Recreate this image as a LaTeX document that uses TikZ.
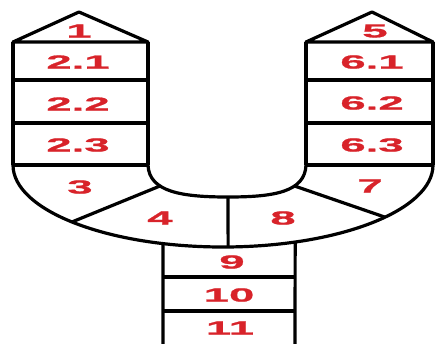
\documentclass[tikz,border=0pt]{standalone}
\usepackage{fontspec}
\newfontfamily\numfont[FakeStretch=2.4, FakeBold=1.2]{Liberation Sans}
\usetikzlibrary{calc}
\definecolor{numred}{HTML}{D8232A}
\tikzset{
  outline/.style={
    draw=black, line width=3.2pt, line join=round
  },
  numlabel/.style={
    font=\numfont\bfseries\fontsize{19}{19}\selectfont,
    color=numred, inner sep=0pt
  },
}

\begin{document}
\begin{tikzpicture}[x=1pt, y=-1pt]
  \useasboundingbox (0,0) rectangle (435,343);

  % Left column
  \draw[outline] (13,42) -- (79,12) -- (148,42) -- cycle;
  \draw[outline] (13,42) -- (13,165) (148,42) -- (148,165);
  \foreach \y in {80,123,165}
    \draw[outline] (13,\y) -- (148,\y);

  % Right column
  \draw[outline] (306,42) -- (372,12) -- (433,42) -- cycle;
  \draw[outline] (306,42) -- (306,165) (433,42) -- (433,165);
  \foreach \y in {80,123,165}
    \draw[outline] (306,\y) -- (433,\y);

  % Bend
  \coordinate (bend) at (223,165);
  \draw[outline] (13,165) arc[start angle=180, end angle=0, x radius=210, y radius=82];
  \draw[outline] (148,165) .. controls (149,192) and (182,197) .. (228,197)
      coordinate[pos=0.35] (i34) coordinate (i48)
      .. controls (274,197) and (305,192) .. (306,165)
      coordinate[pos=0.65] (i78);
  \path (bend) ++(136:210 and 82) coordinate (o34);
  \path (bend) ++(88.6:210 and 82) coordinate (o48);
  \path (bend) ++(39.5:210 and 82) coordinate (o78);
  \draw[outline] (i34) -- (o34);
  \draw[outline] (i48) -- (o48);
  \draw[outline] (i78) -- (o78);

  % Stem
  \path (bend) ++(106.6:210 and 82) coordinate (sl);
  \path (bend) ++(69.9:210 and 82) coordinate (sr);
  \draw[outline] (sl) -- (163,345) (sr) -- (295,345);
  \foreach \y in {277,311}
    \draw[outline] (163,\y) -- (295,\y);

  % Numbers
  \node[numlabel] (n1) at (79,31) {1};
  \node[numlabel] (n21) at (78,62) {2.1};
  \node[numlabel] (n22) at (78,104) {2.2};
  \node[numlabel] (n23) at (78,145) {2.3};
  \node[numlabel] (n3) at (80,187) {3};
  \node[numlabel] (n4) at (160,218) {4};
  \node[numlabel] (n5) at (375,31) {5};
  \node[numlabel] (n61) at (372,62) {6.1};
  \node[numlabel] (n62) at (372,103) {6.2};
  \node[numlabel] (n63) at (372,145) {6.3};
  \node[numlabel] (n7) at (370,186) {7};
  \node[numlabel] (n8) at (283,218) {8};
  \node[numlabel] (n9) at (232,262) {9};
  \node[numlabel] (n10) at (229,295) {10};
  \node[numlabel] (n11) at (230,328) {11};
\end{tikzpicture}
\end{document}
